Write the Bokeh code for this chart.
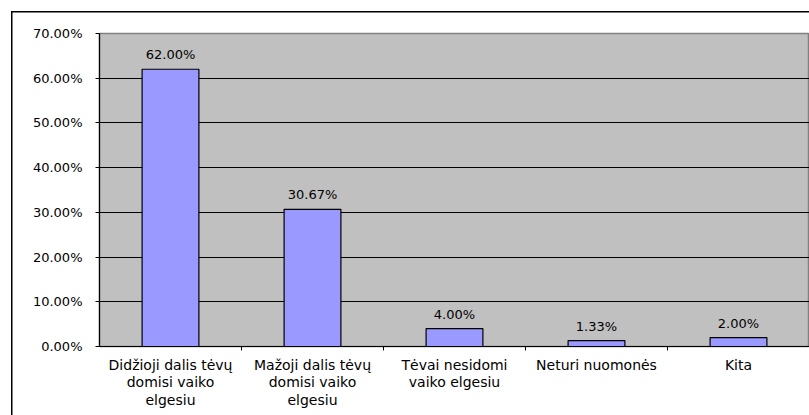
from bokeh.plotting import figure
from bokeh.models import (ColumnDataSource, FixedTicker, NumeralTickFormatter, Range1d, LabelSet)
from bokeh.core.properties import value
from bokeh.embed import file_html
from bokeh.resources import INLINE

categories = ["Didžioji dalis tėvų\ndomisi vaiko\nelgesiu",
              "Mažoji dalis tėvų\ndomisi vaiko\nelgesiu",
              "Tėvai nesidomi\nvaiko elgesiu",
              "Neturi nuomonės",
              "Kita"]
values = [0.62, 0.3067, 0.04, 0.0133, 0.02]
value_labels = ["62.00%", "30.67%", "4.00%", "1.33%", "2.00%"]
y_ticks = [0.0, 0.1, 0.2, 0.3, 0.4, 0.5, 0.6, 0.7]

FONT = "DejaVu Sans"
FS = "13px"

xs = [i + 0.5 for i in range(len(categories))]
src = ColumnDataSource(dict(x=xs, top=values, lab=value_labels))

p = figure(width=809, height=415, output_backend="svg", toolbar_location=None,
           x_range=Range1d(0, len(categories)), y_range=Range1d(0, 0.7),
           min_border_left=99, min_border_right=0, min_border_top=33, min_border_bottom=69)
p.background_fill_color = "#C0C0C0"
p.border_fill_color = None
p.outline_line_color = "#808080"
p.outline_line_width = 1.5
p.styles = {
    "background": ("linear-gradient(#000, #000) 11px 11px / 1.5px 100% no-repeat, "
                   "linear-gradient(#000, #000) 11px 11px / 100% 1.5px no-repeat, white"),
}

p.vbar(x="x", top="top", width=0.4, source=src, fill_color="#9999FF",
       line_color="black", line_width=1.2)

labels = LabelSet(x="x", y="top", text="lab", source=src, text_align="center",
                  text_baseline="bottom", y_offset=7, text_font=value(FONT),
                  text_font_size=value(FS), text_color=value("black"))
p.add_layout(labels)

# y axis
p.yaxis.ticker = FixedTicker(ticks=y_ticks, minor_ticks=[])
p.yaxis.formatter = NumeralTickFormatter(format="0.00%")
p.yaxis.major_label_text_font = FONT
p.yaxis.major_label_text_font_size = FS
p.yaxis.major_label_text_color = "black"
p.yaxis.major_tick_in = 0
p.yaxis.major_tick_out = 4
p.yaxis.major_label_standoff = 13
p.yaxis.axis_line_color = "black"
p.yaxis.axis_line_width = 1.2
p.yaxis.major_tick_line_color = "black"

# x axis
p.xaxis.ticker = FixedTicker(ticks=xs, minor_ticks=[1, 2, 3, 4])
p.xaxis.major_label_overrides = {x: c for x, c in zip(xs, categories)}
p.xaxis.major_tick_in = 0
p.xaxis.major_tick_out = 0
p.xaxis.minor_tick_in = 0
p.xaxis.minor_tick_out = 4
p.xaxis.minor_tick_line_color = "black"
p.xaxis.axis_line_color = "black"
p.xaxis.axis_line_width = 1.2
p.xaxis.major_label_text_font = FONT
p.xaxis.major_label_text_font_size = "14px"
p.xaxis.major_label_text_line_height = 1.1
p.xaxis.major_label_text_color = "black"
p.xaxis.major_label_standoff = 6

p.xgrid.grid_line_color = None
p.ygrid.ticker = FixedTicker(ticks=y_ticks)
p.ygrid.grid_line_color = "black"
p.ygrid.grid_line_width = 1.2

open("out.html", "w").write(file_html(p, INLINE))
